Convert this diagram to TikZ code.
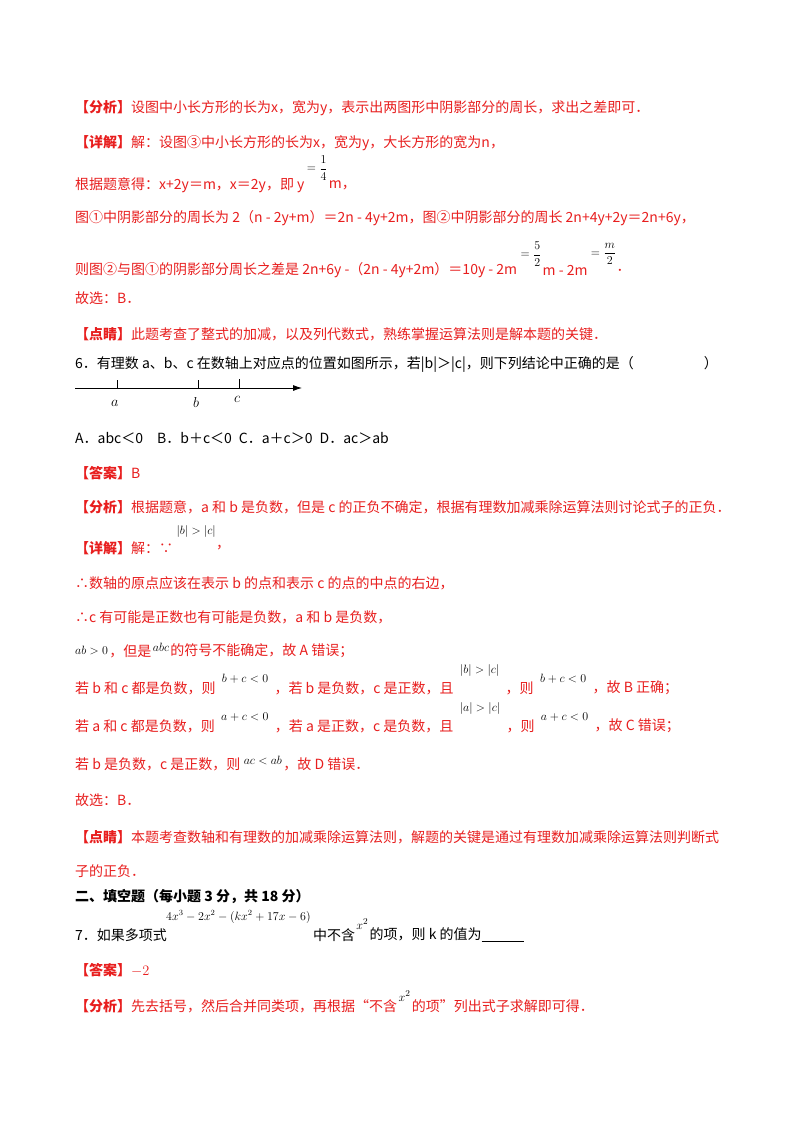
\documentclass[tikz,border=0pt]{standalone}
\usepackage{fontspec}
\setmainfont{Noto Sans CJK SC}
\usetikzlibrary{arrows.meta}
\definecolor{docred}{RGB}{232,30,30}
\begin{document}
\begin{tikzpicture}[x=1pt,y=-1pt,
  t/.style={anchor=west,inner sep=0pt,font=\fontsize{14}{16}\selectfont},
  r/.style={t,text=docred},
  m/.style={anchor=west,inner sep=0pt,font=\fontsize{13}{15}\selectfont,text=black}]
\useasboundingbox[fill=white] (0,0) rectangle (800,1132);
\node[r] (l1) at (75,108) {\textbf{【分析】}设图中小长方形的长为x，宽为y，表示出两图形中阴影部分的周长，求出之差即可．};
\node[r] (l2) at (75,143) {\textbf{【详解】}解：设图③中小长方形的长为x，宽为y，大长方形的宽为n，};
\node[r] (l3) at (75,185) {根据题意得：x+2y＝m，x＝2y，即 y};
\node[m] (f1) at ([xshift=2pt,yshift=17pt]l3.east) {$\displaystyle=\frac14$};
\node[r] (l3b) at ([xshift=1pt]f1.east |- l3.east) {m，};
\node[r] (l4) at (75,218) {图①中阴影部分的周长为 2（n - 2y+m）＝2n - 4y+2m，图②中阴影部分的周长 2n+4y+2y＝2n+6y，};
\node[r] (l5) at (75,270) {则图②与图①的阴影部分周长之差是 2n+6y -（2n - 4y+2m）＝10y - 2m};
\node[m] (f2) at ([xshift=3pt,yshift=16pt]l5.east) {$\displaystyle=\frac52$};
\node[r] (l5b) at ([xshift=1pt]f2.east |- l5.east) {m - 2m};
\node[m] (f3) at ([xshift=3pt,yshift=16pt]l5b.east) {$\displaystyle=\frac m2$};
\node[r] (l5c) at (f3.east |- l5.east) {．};
\node[r] (l6) at (75,298) {故选：B．};
\node[r] (l7) at (75,334) {\textbf{【点睛】}此题考查了整式的加减，以及列代数式，熟练掌握运算法则是解本题的关键．};
\node[t] (q6) at (75,364) {6．有理数 a、b、c 在数轴上对应点的位置如图所示，若|b|＞|c|，则下列结论中正确的是（\hspace{5em}）};
\coordinate (ax0) at (75,388);
\coordinate (ax1) at (302,388);
\draw[line width=0.8pt,-{Latex[length=9pt,width=6pt]}] (ax0) -- (ax1);
\draw (117,388) -- (117,380) (198,388) -- (198,380);
\draw[line width=1pt] (239,388) -- (239,379);
\node[m,font=\fontsize{15}{17}\selectfont] (na) at (111,403) {$a$};
\node[m,font=\fontsize{15}{17}\selectfont] (nb) at (193,402) {$b$};
\node[m,font=\fontsize{15}{17}\selectfont] (nc) at (234,399) {$c$};
\node[t] (ans) at (75,438) {A．abc＜0\quad B．b＋c＜0\enspace C．a＋c＞0\enspace D．ac＞ab};
\node[r] (d1) at (75,473) {\textbf{【答案】}B};
\node[r] (d2) at (75,507) {\textbf{【分析】}根据题意，a 和 b 是负数，但是 c 的正负不确定，根据有理数加减乘除运算法则讨论式子的正负．};
\node[r] (d3) at (75,548) {\textbf{【详解】}解：∵};
\node[m] (d3m) at ([xshift=3pt,yshift=17pt]d3.east) {$|b|>|c|$};
\node[r] (d3b) at (d3m.east |- d3.east) {，};
\node[r] (d4) at (75,583) {∴数轴的原点应该在表示 b 的点和表示 c 的点的中点的右边，};
\node[r] (d5) at (75,617) {∴c 有可能是正数也有可能是负数，a 和 b 是负数，};
\node[m] (d6m) at (75,650) {$ab>0$};
\node[r] (d6) at ([xshift=1pt]d6m.east |- 0,651) {，但是};
\node[m] (d6n) at ([xshift=1pt,yshift=4pt]d6.east) {$abc$};
\node[r] (d6b) at ([xshift=1pt]d6n.east |- d6.east) {的符号不能确定，故 A 错误；};
\node[r] (d7) at (75,688) {若 b 和 c 都是负数，则};
\node[m] (d7m) at ([xshift=6pt,yshift=9pt]d7.east) {$b+c<0$};
\node[r] (d7b) at ([xshift=6pt]d7m.east |- d7.east) {，若 b 是负数，c 是正数，且};
\node[m] (d7n) at ([xshift=6pt,yshift=18pt]d7b.east) {$|b|>|c|$};
\node[r] (d7c) at ([xshift=6pt]d7n.east |- d7.east) {，则};
\node[m] (d7o) at ([xshift=6pt,yshift=9pt]d7c.east) {$b+c<0$};
\node[r] (d7d) at ([xshift=6pt]d7o.east |- d7.east) {，故 B 正确；};
\node[r] (d8) at (75,726) {若 a 和 c 都是负数，则};
\node[m] (d8m) at ([xshift=6pt,yshift=9pt]d8.east) {$a+c<0$};
\node[r] (d8b) at ([xshift=6pt]d8m.east |- d8.east) {，若 a 是正数，c 是负数，且};
\node[m] (d8n) at ([xshift=6pt,yshift=18pt]d8b.east) {$|a|>|c|$};
\node[r] (d8c) at ([xshift=6pt]d8n.east |- d8.east) {，则};
\node[m] (d8o) at ([xshift=6pt,yshift=9pt]d8c.east) {$a+c<0$};
\node[r] (d8d) at ([xshift=6pt]d8o.east |- d8.east) {，故 C 错误；};
\node[r] (d9) at (75,764) {若 b 是负数，c 是正数，则};
\node[m] (d9m) at ([xshift=3pt,yshift=4pt]d9.east) {$ac<ab$};
\node[r] (d9b) at ([xshift=1pt]d9m.east |- d9.east) {，故 D 错误．};
\node[r] (d10) at (75,800) {故选：B．};
\node[r] (d11) at (75,837) {\textbf{【点睛】}本题考查数轴和有理数的加减乘除运算法则，解题的关键是通过有理数加减乘除运算法则判断式};
\node[r] (d12) at (75,871) {子的正负．};
\node[t] (s2) at (75,897) {\textbf{二、填空题（每小题 3 分，共 18 分）}};
\node[t] (q7) at (75,935) {7．如果多项式};
\node[m,font=\fontsize{12}{14}\selectfont] (q7m) at (166,917) {$4x^3-2x^2-\left(kx^2+17x-6\right)$};
\node[t] (q7b) at ([xshift=2pt]q7m.east |- q7.east) {中不含};
\node[m] (q7n) at ([xshift=1pt,yshift=11pt]q7b.east) {$x^2$};
\node[t] (q7c) at ([xshift=1pt]q7n.east |- q7.east) {的项，则 k 的值为\underline{\hspace{3em}}};
\node[r] (e1) at (75,970) {\textbf{【答案】}$-2$};
\node[r] (e2) at (75,1006) {\textbf{【分析】}先去括号，然后合并同类项，再根据“不含};
\node[m] (e2m) at ([xshift=1pt,yshift=10pt]e2.east) {$x^2$};
\node[r] (e2b) at ([xshift=1pt]e2m.east |- e2.east) {的项”列出式子求解即可得．};
\end{tikzpicture}
\end{document}
